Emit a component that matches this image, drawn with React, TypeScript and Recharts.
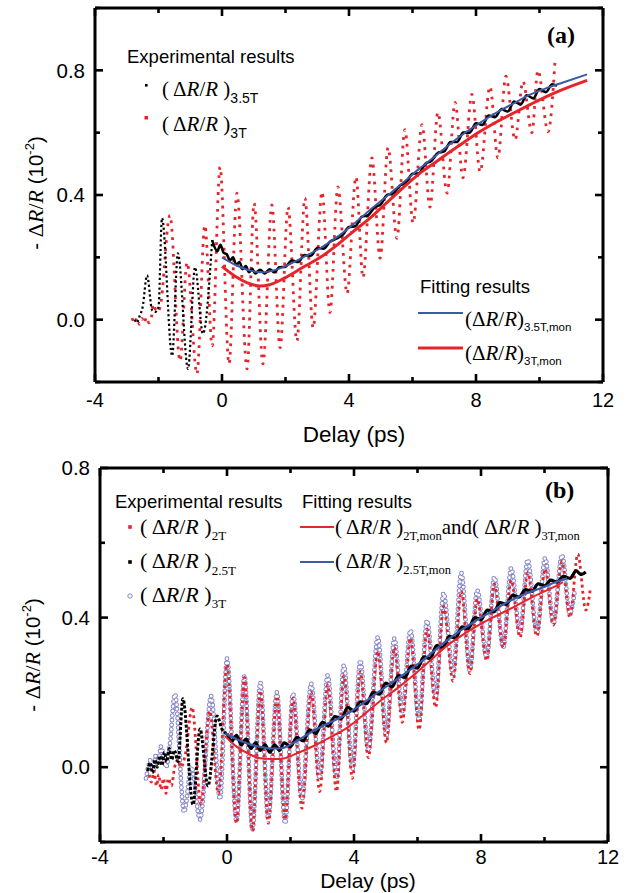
import { ComposedChart, Line, XAxis, YAxis } from "recharts"

type P = [number, number]

const SANS = '"Liberation Sans", Arial, sans-serif'
const SERIF = '"Liberation Serif", "Times New Roman", serif'

const RED = "#e5242b"
const BLUE = "#3b5aa8"
const LAV = "#8585c8"

// shared axis ticks
const X_TICKS = [-4, -2, 0, 2, 4, 6, 8, 10, 12]
const X_LABELS = [-4, 0, 4, 8, 12]
const Y_TICKS_A = [-0.2, 0, 0.2, 0.4, 0.6, 0.8, 1.0]
const Y_TICKS_B = [-0.2, 0, 0.2, 0.4, 0.6, 0.8]
const Y_LABELS = [0, 0.4, 0.8]

// ---------- panel (a) ----------
const red3T_a: P[] = [
  [-2.83, 0.005], [-2.75, -0.012], [-2.68, 0.006], [-2.6, -0.015], [-2.52, 0.004],
  [-2.45, -0.012], [-2.38, 0.008], [-2.3, -0.01], [-2.22, 0.01], [-2.17, 0.05],
  [-2.05, 0.025], [-1.95, 0.04], [-1.64, 0.335], [-1.32, -0.132], [-1.1, 0.184],
  [-0.79, -0.174], [-0.54, 0.303], [-0.31, -0.084], [-0.06, 0.49],
  [0.22, -0.142], [0.47, 0.406], [0.79, -0.158], [1.01, 0.374], [1.29, -0.142],
  [1.57, 0.368], [1.83, -0.09], [2.08, 0.361], [2.36, -0.068], [2.61, 0.39],
  [2.87, -0.026], [3.15, 0.41], [3.4, 0.023], [3.65, 0.426], [3.94, 0.084],
  [4.22, 0.458], [4.44, 0.135], [4.72, 0.519], [4.98, 0.197], [5.23, 0.552],
  [5.51, 0.261], [5.76, 0.61], [6.02, 0.31], [6.3, 0.626], [6.55, 0.361],
  [6.8, 0.665], [7.09, 0.406], [7.34, 0.697], [7.59, 0.455], [7.87, 0.723],
  [8.13, 0.474], [8.44, 0.748], [8.69, 0.519], [8.94, 0.781], [9.23, 0.577],
  [9.48, 0.765], [9.76, 0.6], [9.95, 0.8], [10.27, 0.603], [10.49, 0.832],
]

const black35T_pre: P[] = [
  [-2.75, 0.0], [-2.68, -0.01], [-2.6, 0.01], [-2.5, 0.04], [-2.36, 0.142],
  [-2.2, 0.03], [-2.1, 0.025], [-2.0, 0.04], [-1.89, 0.326], [-1.57, -0.116],
  [-1.39, 0.213], [-1.07, -0.158], [-0.85, 0.168], [-0.6, -0.045], [-0.31, 0.255],
]

const black35T_post: P[] = [
  [-0.31, 0.255], [-0.15, 0.22], [-0.05, 0.24], [0.05, 0.215], [0.15, 0.21],
  [0.25, 0.19], [0.35, 0.2], [0.45, 0.175], [0.55, 0.185], [0.65, 0.162],
  [0.75, 0.172], [0.85, 0.152], [0.95, 0.163], [1.05, 0.148], [1.2, 0.16],
  [1.35, 0.148], [1.5, 0.162], [1.65, 0.152], [1.8, 0.168], [2.0, 0.17],
  [2.2, 0.19], [2.4, 0.185], [2.6, 0.207], [2.8, 0.205], [3.0, 0.23],
  [3.2, 0.228], [3.4, 0.25], [3.6, 0.26], [3.8, 0.272], [4.0, 0.297],
  [4.2, 0.3], [4.4, 0.33], [4.6, 0.335], [4.8, 0.36], [5.0, 0.37],
  [5.2, 0.4], [5.4, 0.405], [5.6, 0.43], [5.8, 0.44], [6.0, 0.468],
  [6.2, 0.47], [6.4, 0.5], [6.6, 0.51], [6.8, 0.535], [7.0, 0.54],
  [7.2, 0.57], [7.4, 0.57], [7.6, 0.6], [7.8, 0.6], [8.0, 0.63],
  [8.2, 0.625], [8.4, 0.655], [8.6, 0.65], [8.8, 0.675], [9.0, 0.668],
  [9.2, 0.7], [9.4, 0.69], [9.6, 0.72], [9.8, 0.71], [10.0, 0.74],
  [10.2, 0.73], [10.4, 0.755], [10.55, 0.75],
]

const fit35T_a: P[] = [
  [0, 0.2], [0.4, 0.177], [0.8, 0.16], [1.2, 0.152], [1.5, 0.155], [2.0, 0.172],
  [2.55, 0.2], [3.1, 0.23], [3.62, 0.265], [4.1, 0.303], [4.66, 0.352], [5.2, 0.397],
  [5.7, 0.439], [6.2, 0.483], [6.77, 0.529], [7.2, 0.565], [7.59, 0.595], [8.1, 0.63],
  [8.66, 0.665], [9.2, 0.695], [9.7, 0.722], [10.2, 0.742], [10.74, 0.761], [11.5, 0.787],
]

const fit3T_a: P[] = [
  [0, 0.171], [0.4, 0.14], [0.8, 0.118], [1.2, 0.108], [1.5, 0.112], [2.0, 0.135],
  [2.55, 0.168], [3.1, 0.2], [3.62, 0.239], [4.1, 0.28], [4.66, 0.326], [5.2, 0.376],
  [5.7, 0.423], [6.2, 0.467], [6.77, 0.508], [7.2, 0.54], [7.59, 0.567], [8.1, 0.602],
  [8.66, 0.635], [9.2, 0.664], [9.7, 0.69], [10.2, 0.715], [10.74, 0.739], [11.5, 0.768],
]

// ---------- panel (b) ----------
const red2T_b: P[] = [
  [-2.45, -0.02], [-2.38, -0.04], [-2.3, -0.01], [-2.22, -0.05], [-2.15, -0.02],
  [-2.08, -0.06], [-2.0, -0.03], [-1.92, -0.07], [-1.85, -0.03], [-1.75, -0.05],
  [-1.65, 0.0], [-1.55, 0.02], [-1.45, 0.0], [-1.3, 0.04], [-1.1, 0.16],
  [-0.82, -0.1], [-0.55, 0.15], [-0.27, -0.07], [0.0, 0.275],
  [0.3, -0.15], [0.55, 0.24], [0.8, -0.17], [1.05, 0.205], [1.3, -0.15],
  [1.57, 0.19], [1.83, -0.14], [2.08, 0.185], [2.36, -0.11], [2.65, 0.2],
  [2.92, -0.065], [3.17, 0.22], [3.45, -0.065], [3.68, 0.245], [3.95, -0.03],
  [4.2, 0.255], [4.45, 0.025], [4.75, 0.31], [5.02, 0.065], [5.27, 0.32],
  [5.52, 0.12], [5.78, 0.345], [6.05, 0.1], [6.3, 0.37], [6.57, 0.16],
  [6.82, 0.43], [7.12, 0.23], [7.38, 0.47], [7.65, 0.25], [7.88, 0.45],
  [8.18, 0.285], [8.42, 0.49], [8.7, 0.32], [8.95, 0.5], [9.23, 0.347],
  [9.47, 0.52], [9.76, 0.35], [10.02, 0.53], [10.28, 0.38], [10.55, 0.55],
  [10.8, 0.4], [11.05, 0.57], [11.3, 0.42], [11.45, 0.48],
]

const black25T_pre: P[] = [
  [-2.5, -0.01], [-2.42, 0.012], [-2.35, -0.015], [-2.27, 0.02], [-2.2, 0.0],
  [-2.12, 0.03], [-2.05, 0.005], [-1.97, 0.04], [-1.9, 0.015], [-1.82, 0.05],
  [-1.74, 0.02], [-1.66, 0.045], [-1.54, 0.015], [-1.39, 0.183], [-1.07, -0.1],
  [-0.85, 0.102], [-0.6, -0.05], [-0.31, 0.137], [-0.15, 0.1], [0.0, 0.09],
]

const black25T_post: P[] = [
  [0.0, 0.09], [0.15, 0.07], [0.3, 0.085], [0.45, 0.06], [0.6, 0.075],
  [0.75, 0.05], [0.9, 0.065], [1.05, 0.045], [1.2, 0.06], [1.35, 0.04],
  [1.5, 0.06], [1.65, 0.045], [1.8, 0.065], [2.0, 0.055], [2.2, 0.08],
  [2.4, 0.07], [2.6, 0.1], [2.8, 0.09], [3.0, 0.12], [3.2, 0.11],
  [3.4, 0.135], [3.6, 0.13], [3.8, 0.16], [4.0, 0.15], [4.2, 0.175],
  [4.4, 0.17], [4.6, 0.2], [4.8, 0.195], [5.0, 0.225], [5.2, 0.215],
  [5.4, 0.245], [5.6, 0.24], [5.8, 0.27], [6.0, 0.265], [6.2, 0.295],
  [6.4, 0.29], [6.6, 0.325], [6.8, 0.32], [7.0, 0.35], [7.2, 0.345],
  [7.4, 0.375], [7.6, 0.37], [7.8, 0.4], [8.0, 0.395], [8.2, 0.42],
  [8.4, 0.415], [8.6, 0.44], [8.8, 0.435], [9.0, 0.46], [9.2, 0.455],
  [9.4, 0.475], [9.6, 0.47], [9.8, 0.49], [10.0, 0.485], [10.2, 0.5],
  [10.4, 0.495], [10.6, 0.51], [10.8, 0.505], [11.0, 0.525], [11.15, 0.515],
  [11.3, 0.522],
]

const circ3T_b: P[] = [
  [-2.55, -0.03], [-2.48, 0.0], [-2.4, 0.02], [-2.32, -0.01], [-2.25, 0.03],
  [-2.15, 0.02], [-2.08, 0.055], [-2.0, 0.03], [-1.92, 0.0], [-1.8, 0.06],
  [-1.64, 0.195], [-1.35, -0.12], [-1.12, 0.0], [-0.85, -0.14], [-0.5, 0.19],
  [-0.22, -0.085], [0.0, 0.29],
  [0.3, -0.145], [0.55, 0.245], [0.8, -0.167], [1.05, 0.226], [1.3, -0.137],
  [1.57, 0.2], [1.83, -0.15], [2.08, 0.196], [2.36, -0.085], [2.65, 0.223],
  [2.92, -0.03], [3.17, 0.245], [3.45, -0.03], [3.68, 0.272], [3.95, -0.005],
  [4.2, 0.285], [4.45, 0.043], [4.75, 0.347], [5.02, 0.083], [5.27, 0.344],
  [5.52, 0.15], [5.78, 0.366], [6.05, 0.124], [6.3, 0.392], [6.57, 0.185],
  [6.82, 0.465], [7.12, 0.25], [7.38, 0.519], [7.65, 0.258], [7.88, 0.473],
  [8.18, 0.293], [8.42, 0.508], [8.7, 0.32], [8.95, 0.532], [9.23, 0.358],
  [9.47, 0.554], [9.76, 0.358], [10.02, 0.559], [10.28, 0.384], [10.55, 0.567],
  [10.8, 0.411], [10.95, 0.47],
]

const fit25T_b: P[] = [
  [-0.06, 0.09], [0.3, 0.075], [0.7, 0.062], [1.0, 0.055], [1.45, 0.05], [1.67, 0.05],
  [2.2, 0.07], [2.71, 0.097], [3.2, 0.118], [3.78, 0.142], [4.3, 0.172], [4.82, 0.204],
  [5.35, 0.235], [5.86, 0.266], [6.4, 0.302], [6.93, 0.339], [7.35, 0.365], [7.75, 0.387],
  [8.3, 0.415], [8.82, 0.441], [9.35, 0.462], [9.86, 0.478], [10.3, 0.493], [10.71, 0.505],
]

const fit2T_b: P[] = [
  [-0.06, 0.083], [0.3, 0.055], [0.7, 0.035], [1.04, 0.024], [1.4, 0.022], [1.67, 0.022],
  [2.2, 0.037], [2.71, 0.056], [3.2, 0.078], [3.78, 0.105], [4.3, 0.14], [4.82, 0.177],
  [5.35, 0.21], [5.86, 0.245], [6.4, 0.285], [6.93, 0.325], [7.35, 0.35], [7.75, 0.371],
  [8.3, 0.397], [8.82, 0.419], [9.35, 0.443], [9.86, 0.465], [10.3, 0.482], [10.58, 0.495],
]

const pts = (a: P[]) => a.map(([x, y]) => ({ x, y }))

const isXLabel = (v: number) => X_LABELS.includes(v)
const isYLabel = (v: number) => Y_LABELS.some((t) => Math.abs(t - v) < 1e-6)

const MAJOR = 8
const MINOR = 5
const TW = 2.6

// plot boxes, as set by the chart margins and axis sizes below
const BOX_A = { left: 95, right: 603, top: 8, bottom: 382, yMin: -0.2, yMax: 1.0 }
const BOX_B = { left: 100, right: 608, top: 468, bottom: 842, yMin: -0.2, yMax: 0.8 }

function BottomLabel(props: any) {
  const { x, y, payload } = props
  if (!isXLabel(payload.value)) return <g />
  return (
    <text x={x} y={y} dy="0.71em" textAnchor="middle" fill="#000" fontSize={20} fontFamily={SANS}>
      {payload.value}
    </text>
  )
}

function LeftLabel(props: any) {
  const { x, y, payload } = props
  if (!isYLabel(payload.value)) return <g />
  return (
    <text x={x} y={y} dy="0.355em" textAnchor="end" fill="#000" fontSize={20.5} fontFamily={SANS}>
      {Number(payload.value).toFixed(1)}
    </text>
  )
}

// inward ticks on all four sides of a plot box
function FrameTicks({ box, yTicks }: { box: typeof BOX_A; yTicks: number[] }) {
  const sx = (v: number) => box.left + ((v + 4) / 16) * (box.right - box.left)
  const sy = (v: number) => box.bottom - ((v - box.yMin) / (box.yMax - box.yMin)) * (box.bottom - box.top)
  return (
    <g stroke="#000" strokeWidth={TW}>
      {X_TICKS.map((t) => {
        const len = isXLabel(t) ? MAJOR : MINOR
        const x = sx(t)
        return (
          <g key={`x${t}`}>
            <line x1={x} x2={x} y1={box.bottom} y2={box.bottom - len} />
            <line x1={x} x2={x} y1={box.top} y2={box.top + len} />
          </g>
        )
      })}
      {yTicks.map((v) => {
        const len = isYLabel(v) ? MAJOR : MINOR
        const y = sy(v)
        return (
          <g key={`y${v}`}>
            <line x1={box.left} x2={box.left + len} y1={y} y2={y} />
            <line x1={box.right} x2={box.right - len} y1={y} y2={y} />
          </g>
        )
      })}
    </g>
  )
}

const axisLine = { stroke: "#000", strokeWidth: 3 }

const common = {
  dataKey: "y",
  dot: false,
  activeDot: false,
  isAnimationActive: false,
  type: "monotone" as const,
  legendType: "none" as const,
}

function Drr({ gap }: { gap?: boolean }) {
  return (
    <>
      {gap ? "( " : "("}Δ<tspan fontStyle="italic">R</tspan>/<tspan fontStyle="italic">R</tspan>
      {gap ? " )" : ")"}
    </>
  )
}

function YTitle({ x, y }: { x: number; y: number }) {
  return (
    <text transform={`rotate(-90 ${x} ${y})`} x={x} y={y} textAnchor="middle" fontFamily={SANS} fontSize={20.5}>
      -{" "}
      <tspan fontFamily={SERIF} fontSize={22}>Δ</tspan>
      <tspan fontFamily={SERIF} fontSize={22} fontStyle="italic">R</tspan>
      <tspan fontFamily={SERIF} fontSize={22}>/</tspan>
      <tspan fontFamily={SERIF} fontSize={22} fontStyle="italic">R</tspan> (10
      <tspan fontSize={13} dy={-9}>-2</tspan>
      <tspan dy={9}>)</tspan>
    </text>
  )
}

function Overlay() {
  return (
    <svg
      width={633}
      height={893}
      style={{ position: "absolute", left: 0, top: 0, pointerEvents: "none" }}
    >
      <FrameTicks box={BOX_A} yTicks={Y_TICKS_A} />
      <FrameTicks box={BOX_B} yTicks={Y_TICKS_B} />

      {/* panel (a) */}
      <text x={127} y={63} fontFamily={SANS} fontSize={18.5}>Experimental results</text>
      <rect x={145} y={84} width={2.6} height={2.6} fill="#000" />
      <text x={162} y={96} fontFamily={SERIF} fontSize={21}>
        <Drr gap />
        <tspan fontFamily={SANS} fontSize={14} dy={7}>3.5T</tspan>
      </text>
      <rect x={144.5} y={116} width={3.5} height={3.5} fill={RED} />
      <text x={162} y={131} fontFamily={SERIF} fontSize={21}>
        <Drr gap />
        <tspan fontFamily={SANS} fontSize={14} dy={7}>3T</tspan>
      </text>
      <text x={547} y={43} fontFamily={SERIF} fontSize={24} fontWeight="bold">(a)</text>
      <text x={420} y={293} fontFamily={SANS} fontSize={18.5}>Fitting results</text>
      <line x1={418} x2={463} y1={313} y2={313} stroke={BLUE} strokeWidth={2} />
      <text x={465} y={326} fontFamily={SERIF} fontSize={21}>
        <Drr />
        <tspan fontFamily={SANS} fontSize={11.5} dy={5}>3.5T,mon</tspan>
      </text>
      <line x1={418} x2={463} y1={348} y2={348} stroke={RED} strokeWidth={3} />
      <text x={465} y={360} fontFamily={SERIF} fontSize={21}>
        <Drr />
        <tspan fontFamily={SANS} fontSize={11.5} dy={5}>3T,mon</tspan>
      </text>
      <YTitle x={43} y={193} />
      <text x={354} y={442} textAnchor="middle" fontFamily={SANS} fontSize={22.5}>Delay (ps)</text>

      {/* panel (b) */}
      <text x={115} y={508} fontFamily={SANS} fontSize={18.5}>Experimental results</text>
      <rect x={128.2} y={525.2} width={3.6} height={3.6} fill={RED} />
      <text x={140} y={534} fontFamily={SERIF} fontSize={22}>
        <Drr gap />
        <tspan fontSize={13} dy={6}>2T</tspan>
      </text>
      <rect x={128.2} y={560.2} width={3.6} height={3.6} fill="#000" />
      <text x={140} y={568} fontFamily={SERIF} fontSize={22}>
        <Drr gap />
        <tspan fontSize={13} dy={7}>2.5T</tspan>
      </text>
      <circle cx={130} cy={596} r={2.2} fill="#fff" stroke={LAV} strokeWidth={1} />
      <text x={140} y={602} fontFamily={SERIF} fontSize={22}>
        <Drr gap />
        <tspan fontSize={13} dy={6}>3T</tspan>
      </text>
      <text x={302} y={508} fontFamily={SANS} fontSize={18.5}>Fitting results</text>
      <line x1={300} x2={334} y1={527} y2={527} stroke={RED} strokeWidth={2} />
      <text x={335} y={534} fontFamily={SERIF} fontSize={21}>
        <Drr gap />
        <tspan fontSize={12.5} dy={6}>2T,mon</tspan>
        <tspan dy={-6}>and</tspan>
        <Drr gap />
        <tspan fontSize={12.5} dy={6}>3T,mon</tspan>
      </text>
      <line x1={300} x2={334} y1={562} y2={562} stroke={BLUE} strokeWidth={2.2} />
      <text x={335} y={568} fontFamily={SERIF} fontSize={21}>
        <Drr gap />
        <tspan fontSize={12.5} dy={6}>2.5T,mon</tspan>
      </text>
      <text x={545} y={498} fontFamily={SERIF} fontSize={24} fontWeight="bold">(b)</text>
      <YTitle x={40} y={655} />
      <text x={368} y={888} textAnchor="middle" fontFamily={SANS} fontSize={21}>Delay (ps)</text>
    </svg>
  )
}

export default function App() {
  const xAxisBase = {
    dataKey: "x",
    type: "number" as const,
    domain: [-4, 12] as [number, number],
    ticks: X_TICKS,
    interval: 0 as const,
    allowDataOverflow: true,
    axisLine,
    tickLine: false,
    tickSize: 0,
  }
  const yAxisBase = {
    dataKey: "y",
    type: "number" as const,
    interval: 0 as const,
    allowDataOverflow: true,
    axisLine,
    tickLine: false,
    tickSize: 0,
  }
  return (
    <div style={{ position: "absolute", left: 0, top: 0, width: 633, height: 893, background: "#fff" }}>
      <div style={{ position: "absolute", left: 0, top: 0 }}>
        <ComposedChart width={633} height={430} margin={{ top: 7, right: 29, left: 0, bottom: 0 }}>
          <XAxis {...xAxisBase} xAxisId="b" orientation="bottom" height={48} tickMargin={11}
            tick={<BottomLabel />} />
          <XAxis {...xAxisBase} xAxisId="t" orientation="top" height={1} tick={false} />
          <YAxis {...yAxisBase} yAxisId="l" domain={[-0.2, 1.0]} ticks={Y_TICKS_A} width={95}
            tickMargin={10} tick={<LeftLabel />} />
          <YAxis {...yAxisBase} yAxisId="r" orientation="right" domain={[-0.2, 1.0]} ticks={Y_TICKS_A}
            width={1} tick={false} />
          <Line {...common} xAxisId="b" yAxisId="l" data={pts(red3T_a)} stroke={RED}
            strokeWidth={2.8} strokeDasharray="2.8 5.6" />
          <Line {...common} xAxisId="b" yAxisId="l" data={pts(black35T_pre)} stroke="#000"
            strokeWidth={2.2} strokeDasharray="2.2 2.6" />
          <Line {...common} xAxisId="b" yAxisId="l" data={pts(black35T_post)} stroke="#000"
            strokeWidth={2.6} />
          <Line {...common} xAxisId="t" yAxisId="r" data={pts(fit35T_a)} stroke={BLUE} strokeWidth={2} />
          <Line {...common} xAxisId="t" yAxisId="r" data={pts(fit3T_a)} stroke={RED} strokeWidth={3} />
        </ComposedChart>
      </div>
      <div style={{ position: "absolute", left: 0, top: 440 }}>
        <ComposedChart width={633} height={453} margin={{ top: 27, right: 24, left: 0, bottom: 0 }}>
          <XAxis {...xAxisBase} xAxisId="b" orientation="bottom" height={51} tickMargin={8}
            tick={<BottomLabel />} />
          <XAxis {...xAxisBase} xAxisId="t" orientation="top" height={1} tick={false} />
          <YAxis {...yAxisBase} yAxisId="l" domain={[-0.2, 0.8]} ticks={Y_TICKS_B} width={100}
            tickMargin={10} tick={<LeftLabel />} />
          <YAxis {...yAxisBase} yAxisId="r" orientation="right" domain={[-0.2, 0.8]} ticks={Y_TICKS_B}
            width={1} tick={false} />
          <Line {...common} xAxisId="b" yAxisId="l" data={pts(circ3T_b)} stroke={LAV}
            strokeWidth={4.8} strokeDasharray="0 4.6" strokeLinecap="round" />
          <Line {...common} xAxisId="b" yAxisId="l" data={pts(circ3T_b)} stroke="#fff"
            strokeWidth={2.8} strokeDasharray="0 4.6" strokeLinecap="round" />
          <Line {...common} xAxisId="b" yAxisId="l" data={pts(red2T_b)} stroke={RED}
            strokeWidth={2.8} strokeDasharray="2.8 3.4" />
          <Line {...common} xAxisId="b" yAxisId="l" data={pts(black25T_pre)} stroke="#000"
            strokeWidth={3} strokeDasharray="3 1.8" />
          <Line {...common} xAxisId="b" yAxisId="l" data={pts(black25T_post)} stroke="#000"
            strokeWidth={3.2} />
          <Line {...common} xAxisId="t" yAxisId="r" data={pts(fit2T_b)} stroke={RED} strokeWidth={2} />
          <Line {...common} xAxisId="t" yAxisId="r" data={pts(fit25T_b)} stroke={BLUE} strokeWidth={2.2} />
        </ComposedChart>
      </div>
      <Overlay />
    </div>
  )
}
